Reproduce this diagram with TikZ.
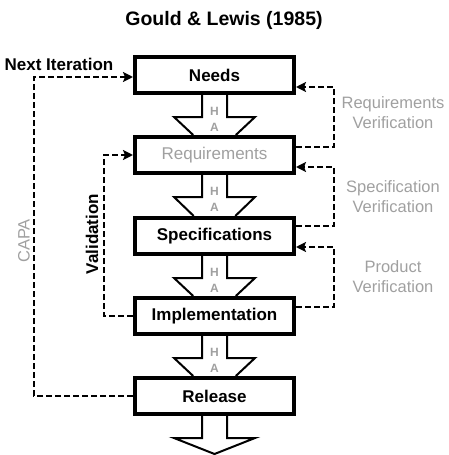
\documentclass[tikz,border=0pt]{standalone}
\usepackage{fontspec}
\setmainfont{Liberation Sans}
\usetikzlibrary{arrows.meta,calc}
\definecolor{softgray}{RGB}{160,160,160}
\begin{document}
\begin{tikzpicture}[x=1pt,y=-1pt,
  stage/.style={draw, line width=4pt, fill=white, minimum width=159pt,
    minimum height=36pt, inner sep=0pt, font=\fontsize{17}{20}\selectfont\bfseries},
  blk/.style={draw, line width=2pt, fill=white, line join=miter},
  flow/.style={line width=2.2pt, dash pattern=on 6pt off 3pt},
  back/.style={flow, -{Stealth[length=10pt,width=10pt,inset=2pt]}},
  hl/.style={text=softgray, font=\fontsize{12}{13}\selectfont\bfseries, inner sep=0pt},
  side/.style={text=softgray, font=\fontsize{16.5}{20}\selectfont, align=center},
  lbl/.style={font=\fontsize{17}{20}\selectfont\bfseries}
]
\useasboundingbox (0,0) rectangle (449,455);

% title
\node[font=\fontsize{19.5}{22}\selectfont\bfseries] (title) at (224,20) {Gould \& Lewis (1985)};

% process stages
\node[stage] (needs) at (214.5,75) {Needs};
\node[stage, text=softgray, font=\fontsize{17}{20}\selectfont] (req) at (214.5,155) {Requirements};
\node[stage] (spec) at (214.5,236) {Specifications};
\node[stage] (impl) at (214.5,316) {Implementation};
\node[stage] (rel) at (214.5,396) {Release};
\coordinate (exit) at ($(rel.south)+(0,38)$);

% hollow block arrows between stages
\foreach \a/\b in {needs/req, req/spec, spec/impl, impl/rel, rel/exit} {
  \draw[blk] ($(\a.south)+(-12.5,0)$) -- ($(\a.south)+(-12.5,22)$)
    -- ($(\a.south)+(-40.5,22)$) -- (\b) -- ($(\a.south)+(40.5,22)$)
    -- ($(\a.south)+(12.5,22)$) -- ($(\a.south)+(12.5,0)$);
}
\foreach \a/\b in {needs/req, req/spec, spec/impl, impl/rel} {
  \node[hl] (h-\a) at ($(\a.south)+(0,16)$) {H};
  \node[hl] (a-\a) at ($(\a.south)+(0,32)$) {A};
}

% feedback loops on the left
\draw[back] (rel.west) -- ++(-99,0) |- ([yshift=-2pt]needs.west);
\draw[back] (impl.west) -- ++(-29,0) |- (req.west);

% verification loops on the right
\draw[back] ([yshift=8pt]req.east) -- ++(38,0) |- ([yshift=-12pt]needs.east);
\draw[back] ([yshift=10pt]spec.east) -- ++(38,0) |- ([yshift=-12pt]req.east);
\draw[back] ([yshift=9pt]impl.east) -- ++(38,0) |- ([yshift=-11pt]spec.east);

% labels
\node[lbl] (nextlbl) at (59,64) {Next Iteration};
\node[lbl, rotate=90] (vallbl) at (92,234) {Validation};
\node[side, rotate=90] (capalbl) at (24,241) {CAPA};
\node[side] (rvlbl) at (393,113) {Requirements\\Verification};
\node[side] (svlbl) at (393,197) {Specification\\Verification};
\node[side] (pvlbl) at (393,277) {Product\\Verification};
\end{tikzpicture}
\end{document}
